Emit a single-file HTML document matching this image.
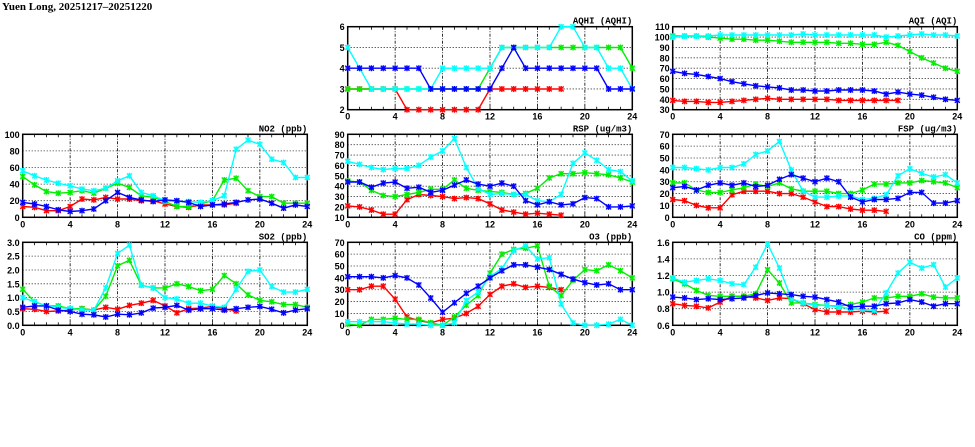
<!DOCTYPE html>
<html><head><meta charset="utf-8"><style>
html,body{margin:0;padding:0;background:#fff;}
svg{display:block;font-family:"Liberation Sans",sans-serif;}
</style></head><body>
<svg id="chart" width="975" height="447" viewBox="0 0 975 447">
<text x="2" y="10" font-family="Liberation Serif, serif" font-weight="bold" font-size="11">Yuen Long, 20251217–20251220</text>
</svg>
<script>
const hours=[0,1,2,3,4,5,6,7,8,9,10,11,12,13,14,15,16,17,18,19,20,21,22,23,24];
const xTicks=[0,4,8,12,16,20,24];
const seriesColors=['#ff0000','#00ee00','#00ffff','#0000ff'];
const seriesNames=['red','green','cyan','blue'];

const aqhiTicks=[2,3,4,5,6];
const aqhiRed=[3,3,3,3,3,2,2,2,2,2,2,2,3,3,3,3,3,3,3];
const aqhiGreen=[3,3,3,3,3,3,3,3,3,3,3,3,4,5,5,5,5,5,5,5,5,5,5,5,4];
const aqhiCyan=[5,4,3,3,3,3,3,3,4,4,4,4,4,5,5,5,5,5,6,6,5,5,4,4,3];
const aqhiBlue=[4,4,4,4,4,4,4,3,3,3,3,3,3,4,5,4,4,4,4,4,4,4,3,3,3];

const aqiTicks=[30,40,50,60,70,80,90,100,110];
const aqiRed=[39,38,38,37,37,38,39,40,41,40,40,40,40,40,39,39,39,39,39,39];
const aqiGreen=[101,101,101,100,99,98,98,97,97,96,95,95,95,95,94,94,93,93,95,92,86,80,75,70,67];
const aqiCyan=[100,101,101,101,102,102,102,102,102,102,102,103,102,102,102,102,102,102,100,101,102,103,102,102,101];
const aqiBlue=[67,65,64,62,60,57,55,53,52,51,49,49,48,48,49,49,49,48,45,47,45,44,42,40,39];

const no2Ticks=[0,20,40,60,80,100];
const no2Red=[13,12,8,8,13,22,21,24,22,22,20,20,16,13,12,15,15,15,17];
const no2Green=[49,39,31,29,30,32,29,35,41,36,26,24,19,13,13,16,20,45,47,32,25,25,17,17,17];
const no2Cyan=[56,50,45,41,38,34,32,35,44,50,30,26,20,19,19,18,20,26,82,93,88,70,66,48,48];
const no2Blue=[18,16,13,9,7,8,10,20,30,24,21,19,21,20,18,13,15,16,18,21,22,17,11,15,13];

const rspTicks=[10,20,30,40,50,60,70,80,90];
const rspRed=[21,20,17,13,13,27,32,31,30,28,29,28,23,17,15,13,14,13,12];
const rspGreen=[45,44,36,31,30,32,34,37,37,46,38,36,35,34,32,33,38,48,52,52,53,52,51,48,44];
const rspCyan=[64,61,58,56,57,57,60,68,74,86,58,38,32,33,32,32,26,25,32,62,72,65,56,54,45];
const rspBlue=[44,44,39,43,44,38,39,34,36,41,46,42,40,43,40,26,22,25,22,23,29,28,20,20,21];

const fspTicks=[0,10,20,30,40,50,60,70];
const fspRed=[15,14,10,8,8,19,22,22,22,20,20,17,13,9,9,7,6,6,5];
const fspGreen=[29,29,23,21,21,23,25,28,26,29,24,22,22,22,20,20,23,28,28,29,29,31,30,29,25];
const fspCyan=[42,42,41,40,42,42,45,53,56,64,40,22,17,17,18,18,15,16,19,35,41,37,34,36,29];
const fspBlue=[25,26,23,27,29,27,29,26,27,32,36,33,30,33,30,17,13,15,15,16,21,21,12,12,14];

const so2Ticks=[0,0.5,1,1.5,2,2.5,3];
const so2TickLabels=['0.0','0.5','1.0','1.5','2.0','2.5','3.0'];
const so2Red=[0.6,0.58,0.5,0.52,0.55,0.6,0.55,0.65,0.58,0.72,0.8,0.9,0.7,0.45,0.6,0.62,0.68,0.6,0.52];
const so2Green=[1.3,0.85,0.7,0.7,0.6,0.6,0.55,1.05,2.15,2.35,1.45,1.35,1.35,1.5,1.4,1.25,1.3,1.8,1.5,1.1,0.9,0.85,0.75,0.75,0.65];
const so2Cyan=[1.0,0.85,0.7,0.65,0.6,0.55,0.55,1.35,2.6,2.9,1.45,1.35,1.0,0.95,0.8,0.8,0.7,0.65,1.3,1.95,2.0,1.4,1.2,1.2,1.3];
const so2Blue=[0.65,0.7,0.7,0.55,0.5,0.4,0.38,0.3,0.4,0.38,0.45,0.62,0.65,0.72,0.55,0.6,0.6,0.55,0.6,0.65,0.68,0.58,0.45,0.55,0.6];

const o3Ticks=[0,10,20,30,40,50,60,70];
const o3Red=[30,30,33,33,22,7,4,2,5,6,10,16,26,33,35,32,33,32,30];
const o3Green=[1,0,5,5,6,5,5,2,0,7,17,25,44,60,64,65,67,33,25,38,47,46,51,46,40];
const o3Cyan=[3,3,3,3,2,1,1,0,0,2,21,28,41,48,63,67,56,57,18,2,0,0,1,5,0];
const o3Blue=[41,41,41,40,42,40,34,23,11,19,27,33,40,46,51,51,49,47,43,39,36,34,35,30,30];

const coTicks=[0.6,0.8,1.0,1.2,1.4,1.6];
const coTickLabels=['0.6','0.8','1.0','1.2','1.4','1.6'];
const coRed=[0.86,0.84,0.83,0.81,0.88,0.95,0.95,0.93,0.90,0.93,0.92,0.86,0.79,0.76,0.76,0.76,0.77,0.76,0.77];
const coGreen=[1.16,1.10,1.02,0.96,0.95,0.95,0.95,0.98,1.27,1.11,0.87,0.87,0.85,0.84,0.83,0.85,0.88,0.93,0.93,0.95,0.95,0.98,0.94,0.93,0.93];
const coCyan=[1.17,1.12,1.14,1.16,1.14,1.10,1.09,1.30,1.58,1.29,0.92,0.87,0.84,0.84,0.82,0.80,0.79,0.78,0.99,1.23,1.36,1.29,1.33,1.06,1.17];
const coBlue=[0.94,0.93,0.91,0.92,0.91,0.92,0.93,0.96,0.99,0.98,0.97,0.95,0.94,0.91,0.88,0.82,0.83,0.83,0.86,0.87,0.91,0.88,0.83,0.86,0.86];

const NS='http://www.w3.org/2000/svg';
const svg=document.getElementById('chart');
function mk(tag,attrs,parent){const e=document.createElementNS(NS,tag);for(const k in attrs)e.setAttribute(k,attrs[k]);(parent||svg).appendChild(e);return e;}

const colX=[22.7,347.7,672.7];
const rowY=[26.7,134.3,242.3];
const PW=284.6, PH=83;

function panel(key,title,col,row,ticks,labels,series){
  const x0=colX[col], y0=rowY[row];
  const ymin=ticks[0], ymax=ticks[ticks.length-1];
  const X=h=>x0+h/24*PW;
  const Y=v=>y0+PH-(v-ymin)/(ymax-ymin)*PH;
  const g=mk('g',{});
  
  
  // grid
  ticks.forEach((t,i)=>{
    if(i>0&&i<ticks.length-1){const l=mk('line',{x1:x0,x2:x0+PW,y1:Y(t),y2:Y(t),stroke:'#000','stroke-width':0.8,'stroke-dasharray':'1,2'},g);
    }
    const tx=mk('text',{x:x0-3,y:Y(t)+3.5,'text-anchor':'end','font-size':9,'font-weight':'bold'},g);
    tx.textContent=labels?labels[i]:String(t);
    
  });
  xTicks.forEach((t,i)=>{
    if(i>0&&i<xTicks.length-1){const l=mk('line',{x1:X(t),x2:X(t),y1:y0,y2:y0+PH,stroke:'#000','stroke-width':0.8,'stroke-dasharray':'3,1.5,1,1.5'},g);
    }
    const tx=mk('text',{x:X(t),y:y0+PH+10,'text-anchor':'middle','font-size':9,'font-weight':'bold'},g);
    tx.textContent=String(t);
    
  });
  hours.forEach(h=>{
    mk('line',{x1:X(h),x2:X(h),y1:y0+PH,y2:y0+PH-3,stroke:'#000','stroke-width':0.8},g);
    mk('line',{x1:X(h),x2:X(h),y1:y0,y2:y0+3,stroke:'#000','stroke-width':0.8},g);
  });
  const fr=mk('rect',{x:x0,y:y0,width:PW,height:PH,fill:'none',stroke:'#000','stroke-width':1.5},g);
  
  const tt=mk('text',{x:x0+PW,y:y0-3,'text-anchor':'end','font-size':9,'font-weight':'bold','font-family':'Liberation Mono, monospace'},g);
  tt.textContent=title;
  
  series.forEach((vals,si)=>{
    const c=seriesColors[si];
    const pts=vals.map((v,i)=>X(hours[i]).toFixed(1)+','+Y(v).toFixed(1)).join(' ');
    const pl=mk('polyline',{points:pts,fill:'none',stroke:c,'stroke-width':1.4},g);
    
    
    vals.forEach((v,i)=>{
      const px=X(hours[i]),py=Y(v);
      const m=mk('g',{},g);
      
      
      mk('rect',{x:px-2.5,y:py-2.5,width:5,height:5,fill:c,'fill-opacity':0.45,stroke:'none'},m);
      mk('path',{d:`M${px-2.5},${py-2.5}L${px+2.5},${py+2.5}M${px+2.5},${py-2.5}L${px-2.5},${py+2.5}M${px},${py-3}L${px},${py+3}`,stroke:c,'stroke-width':1.2},m);
    });
  });
}
panel('aqhi','AQHI (AQHI)',1,0,aqhiTicks,null,[aqhiRed,aqhiGreen,aqhiCyan,aqhiBlue]);
panel('aqi','AQI (AQI)',2,0,aqiTicks,null,[aqiRed,aqiGreen,aqiCyan,aqiBlue]);
panel('no2','NO2 (ppb)',0,1,no2Ticks,null,[no2Red,no2Green,no2Cyan,no2Blue]);
panel('rsp','RSP (ug/m3)',1,1,rspTicks,null,[rspRed,rspGreen,rspCyan,rspBlue]);
panel('fsp','FSP (ug/m3)',2,1,fspTicks,null,[fspRed,fspGreen,fspCyan,fspBlue]);
panel('so2','SO2 (ppb)',0,2,so2Ticks,so2TickLabels,[so2Red,so2Green,so2Cyan,so2Blue]);
panel('o3','O3 (ppb)',1,2,o3Ticks,null,[o3Red,o3Green,o3Cyan,o3Blue]);
panel('co','CO (ppm)',2,2,coTicks,coTickLabels,[coRed,coGreen,coCyan,coBlue]);
</script>
</body></html>
